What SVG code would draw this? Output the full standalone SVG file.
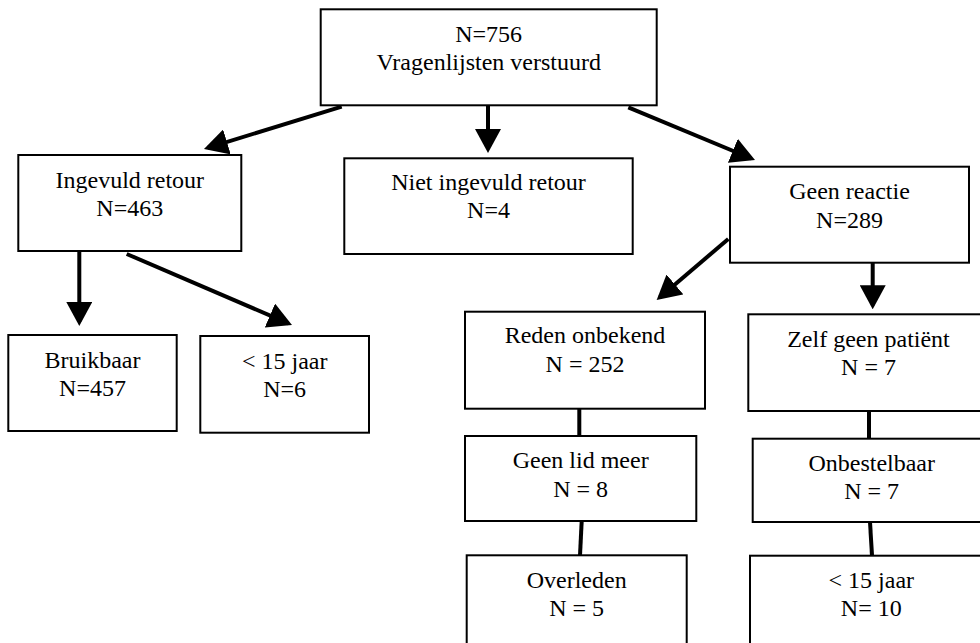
<svg xmlns="http://www.w3.org/2000/svg" width="980" height="643" viewBox="0 0 980 643">
<defs>
<style>
.box{fill:#fff;stroke:#000;stroke-width:2}
.t{font-family:"Liberation Serif","Times New Roman",serif;font-size:24px;fill:#000;text-anchor:middle}
.c{stroke:#000;stroke-width:4;fill:none}
.a{marker-end:url(#ah)}
</style>
<marker id="ah" markerUnits="userSpaceOnUse" markerWidth="24" markerHeight="26" viewBox="0 0 24 26" refX="20" refY="13" orient="auto">
<path d="M0,0 L24,13 L0,26 z" fill="#000"/>
</marker>
</defs>
<rect width="980" height="643" fill="#fff"/>
<g id="connectors">
<line class="c a" x1="341.7" y1="106.7" x2="207.8" y2="147.8"/>
<line class="c a" x1="488" y1="106" x2="488" y2="149"/>
<line class="c a" x1="628.3" y1="107.3" x2="751.3" y2="158.5"/>
<line class="c a" x1="79.3" y1="252" x2="79.3" y2="322"/>
<line class="c a" x1="126.7" y1="254" x2="288.3" y2="323.4"/>
<line class="c a" x1="728.3" y1="239" x2="659.7" y2="297.4"/>
<line class="c a" x1="872.7" y1="263" x2="872.7" y2="305.3"/>
<line class="c" x1="579.3" y1="408.7" x2="579.3" y2="436"/>
<line class="c" x1="869" y1="411" x2="869" y2="438.3"/>
<line class="c" x1="581.7" y1="521" x2="580" y2="555.3"/>
<line class="c" x1="870" y1="522" x2="872" y2="555.7"/>
</g>
<g id="n-verstuurd">
<rect class="box" x="320.7" y="9.3" width="336" height="96"/>
<text class="t" x="488.7" y="41.7">N=756</text>
<text class="t" x="488.7" y="70">Vragenlijsten verstuurd</text>
</g>
<g id="n-ingevuld">
<rect class="box" x="18.3" y="155" width="223" height="96"/>
<text class="t" x="129.8" y="188">Ingevuld retour</text>
<text class="t" x="129.8" y="216">N=463</text>
</g>
<g id="n-niet">
<rect class="box" x="344.3" y="158.3" width="288.4" height="95.7"/>
<text class="t" x="488.5" y="190">Niet ingevuld retour</text>
<text class="t" x="488.5" y="218">N=4</text>
</g>
<g id="n-geenreactie">
<rect class="box" x="730" y="166.7" width="239" height="96"/>
<text class="t" x="849.5" y="199.3">Geen reactie</text>
<text class="t" x="849.5" y="227.7">N=289</text>
</g>
<g id="n-bruikbaar">
<rect class="box" x="8.3" y="335" width="168.4" height="96"/>
<text class="t" x="92.5" y="367.5">Bruikbaar</text>
<text class="t" x="92.5" y="395.8">N=457</text>
</g>
<g id="n-jonger1">
<rect class="box" x="200.3" y="336" width="168.7" height="96.7"/>
<text class="t" x="284.7" y="369.3">&lt; 15 jaar</text>
<text class="t" x="284.7" y="397.3">N=6</text>
</g>
<g id="n-reden">
<rect class="box" x="465" y="311.7" width="240" height="97"/>
<text class="t" x="585" y="343">Reden onbekend</text>
<text class="t" x="585" y="371.5">N = 252</text>
</g>
<g id="n-zelf">
<rect class="box" x="748.3" y="314.3" width="245" height="96.7"/>
<text class="t" x="868.5" y="347">Zelf geen patiënt</text>
<text class="t" x="868.5" y="375">N = 7</text>
</g>
<g id="n-geenlid">
<rect class="box" x="465" y="436" width="231.3" height="85"/>
<text class="t" x="580.7" y="468.3">Geen lid meer</text>
<text class="t" x="580.7" y="496.7">N = 8</text>
</g>
<g id="n-onbestelbaar">
<rect class="box" x="752.7" y="438.7" width="245" height="83.3"/>
<text class="t" x="871.7" y="471">Onbestelbaar</text>
<text class="t" x="871.7" y="499.3">N = 7</text>
</g>
<g id="n-overleden">
<rect class="box" x="466.7" y="555.3" width="220" height="110"/>
<text class="t" x="576.7" y="587.7">Overleden</text>
<text class="t" x="576.7" y="615.7">N = 5</text>
</g>
<g id="n-jonger2">
<rect class="box" x="750" y="555.7" width="245" height="110"/>
<text class="t" x="871.3" y="587.7">&lt; 15 jaar</text>
<text class="t" x="871.3" y="615.7">N= 10</text>
</g>
</svg>
